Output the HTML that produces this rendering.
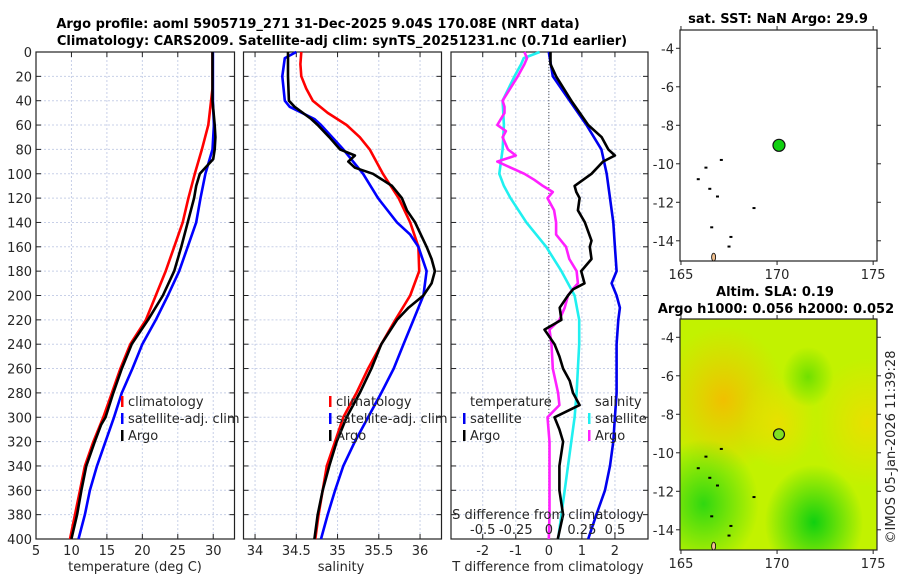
<!DOCTYPE html>
<html><head><meta charset="utf-8"><style>
body{margin:0;background:#fff;}
svg{font-family:"DejaVu Sans","Liberation Sans",sans-serif;}
.t{font-size:13px;fill:#262626;}
.b{font-size:13px;font-weight:bold;fill:#000;}
</style></head><body>
<svg id="s" width="900" height="580" viewBox="0 0 900 580" xmlns="http://www.w3.org/2000/svg">
<defs>
<radialGradient id="g1" cx="0.22" cy="0.35" r="0.32"><stop offset="0" stop-color="#f0c000"/><stop offset="1" stop-color="#f0c800" stop-opacity="0"/></radialGradient>
<radialGradient id="g2" cx="0.68" cy="0.88" r="0.25"><stop offset="0" stop-color="#10d010"/><stop offset="1" stop-color="#10d010" stop-opacity="0"/></radialGradient>
<radialGradient id="g3" cx="0.12" cy="0.8" r="0.28"><stop offset="0" stop-color="#30d810"/><stop offset="1" stop-color="#30d810" stop-opacity="0"/></radialGradient>
<radialGradient id="g4" cx="0.95" cy="0.45" r="0.28"><stop offset="0" stop-color="#e8e000"/><stop offset="1" stop-color="#e8e000" stop-opacity="0"/></radialGradient>
<radialGradient id="g5" cx="0.65" cy="0.25" r="0.13"><stop offset="0" stop-color="#70e000"/><stop offset="1" stop-color="#70e000" stop-opacity="0"/></radialGradient>
<radialGradient id="g6" cx="0.5" cy="0.45" r="0.2"><stop offset="0" stop-color="#e8e000"/><stop offset="1" stop-color="#e8e000" stop-opacity="0"/></radialGradient>
</defs>
<g id="root"></g>
</svg>
<script>
// depth arrays and series values
const tDepth=[0,20,40,60,70,80,88,100,110,120,140,160,180,200,220,240,260,280,300,306,320,340,360,380,400];
const tArgo=[29.9,29.9,29.9,30.2,30.3,30.2,30.0,28.1,27.6,27.3,26.4,25.5,24.5,22.9,20.8,18.5,17.1,15.9,14.8,14.2,13.3,12.1,11.4,10.8,10.0];
const cDepth=[0,30,40,60,80,100,120,140,160,180,200,220,240,260,280,300,320,340,360,380,400];
const tClim=[29.9,29.9,29.7,29.3,28.4,27.4,26.5,25.7,24.5,23.3,21.9,20.5,18.3,16.9,15.7,14.5,13.1,11.9,11.2,10.5,9.8];
const tSat=[29.95,29.95,29.95,30.1,29.9,28.9,28.2,27.6,26.4,25.2,23.6,21.9,20.0,18.6,17.1,16.0,14.8,13.6,12.6,11.9,11.0];
const sDepthA=[0,20,40,45,55,60,70,80,85,90,95,100,110,120,130,140,160,170,180,190,200,210,220,240,260,280,300,320,340,360,380,400];
const sArgo=[34.40,34.40,34.41,34.48,34.68,34.76,34.90,35.03,35.21,35.13,35.21,35.43,35.66,35.78,35.84,35.94,36.08,36.14,36.18,36.14,36.04,35.86,35.72,35.53,35.41,35.27,35.11,34.99,34.90,34.82,34.76,34.72];
const sDepthC=[0,10,20,30,40,50,60,70,80,100,120,140,160,180,200,220,240,260,280,300,320,340,360,380,400];
const sClim=[34.56,34.55,34.56,34.62,34.70,34.88,35.11,35.27,35.39,35.55,35.74,35.88,35.98,35.99,35.88,35.70,35.53,35.37,35.23,35.07,34.97,34.87,34.82,34.77,34.73];
const sDepthS=[0,5,20,40,45,55,60,80,100,120,140,150,160,180,200,220,240,260,280,300,320,340,360,380,400];
const sSat=[34.50,34.36,34.33,34.36,34.42,34.72,34.80,35.07,35.31,35.49,35.72,35.88,35.98,36.08,36.04,35.92,35.80,35.68,35.53,35.37,35.21,35.07,34.97,34.88,34.80];
const dDepthT=[0,10,20,40,60,70,80,85,90,100,110,115,120,130,140,155,160,170,180,190,195,200,210,220,228,240,250,260,270,280,290,300,310,320,340,360,380,400];
const dTArgo=[0.05,0.05,0.22,0.68,1.19,1.6,1.8,2.0,1.64,1.29,0.78,0.83,0.93,0.88,1.09,1.29,1.24,1.29,0.98,1.08,0.73,0.58,0.33,0.38,-0.13,0.17,0.32,0.43,0.63,0.73,0.93,0.17,0.32,0.43,0.32,0.32,0.43,0.27];
const dDepthTS=[0,20,40,60,80,100,120,140,160,180,190,200,210,220,240,260,280,300,320,340,360,380,400];
const dTSat=[0,0.12,0.63,1.14,1.59,1.75,1.85,1.95,2.0,2.05,1.9,2.05,2.15,2.1,2.05,2.05,2.05,2.0,1.95,1.85,1.70,1.44,1.19];
const dDepthSS=[0,5,10,20,40,60,80,100,110,120,140,160,180,200,220,240,260,280,300,320,340,360,380,400];
const dSSat=[-0.07,-0.19,-0.21,-0.26,-0.35,-0.34,-0.35,-0.375,-0.34,-0.29,-0.17,-0.02,0.095,0.195,0.23,0.23,0.22,0.21,0.195,0.17,0.145,0.12,0.095,0.07];
const dDepthSA=[0,5,10,20,40,45,50,60,65,70,80,85,90,100,105,110,115,120,130,140,150,160,170,180,190,195,200,210,220,228,240,260,280,290,300,320,340,360,380,400];
const dSArgo=[-0.185,-0.165,-0.185,-0.235,-0.35,-0.335,-0.335,-0.39,-0.325,-0.35,-0.31,-0.25,-0.39,-0.185,-0.11,-0.045,0.03,-0.01,0.04,0.055,0.055,0.13,0.155,0.21,0.22,0.18,0.145,0.12,0.08,0.005,0.02,0.03,0.07,0.08,-0.01,0.005,0.005,0.005,0.005,0];
const depthTicks=[0,20,40,60,80,100,120,140,160,180,200,220,240,260,280,300,320,340,360,380,400];
const tTicks=[5,10,15,20,25,30];
const sTicks=[34,34.5,35,35.5,36];
const dTTicks=[-2,-1,0,1,2];
const dSTicks=[-0.5,-0.25,0,0.25,0.5];
const lonTicks=[165,170,175];
const latTicks=[-4,-6,-8,-10,-12,-14];
const argoLon=170.1, argoLat=-9.04;

const NS='http://www.w3.org/2000/svg';
const root=document.getElementById('root');
function mk(tag,at,parent){const e=document.createElementNS(NS,tag);for(const k in at)e.setAttribute(k,at[k]);(parent||root).appendChild(e);return e;}
function txt(x,y,s,cls,anchor,parent){const e=mk('text',{x:x,y:y,'class':cls,'text-anchor':anchor||'middle'},parent);e.textContent=s;return e;}
const Y0=52,Y1=539;
const yD=d=>Y0+(d/400)*(Y1-Y0);
const panels=[
 {name:'temperature-panel',x0:36,x1:234.5,v0:5,v1:33.0},
 {name:'salinity-panel',x0:243.5,x1:441.5,v0:33.86,v1:36.26},
 {name:'difference-panel',x0:451,x1:648,v0:-2.96,v1:3.0}
];
function xf(p){return v=>p.x0+(v-p.v0)/(p.v1-p.v0)*(p.x1-p.x0);}
function drawPanel(p,ticks,labelsLeft){
  const g=mk('g',{});
  
  
  const x=xf(p);
  ticks.forEach(t=>{const l=mk('line',{x1:x(t),x2:x(t),y1:Y0,y2:Y1,stroke:'#c8d0e8','stroke-width':1,'stroke-dasharray':'2,2'},g);});
  depthTicks.forEach(d=>{const l=mk('line',{x1:p.x0,x2:p.x1,y1:yD(d),y2:yD(d),stroke:'#c8d0e8','stroke-width':1,'stroke-dasharray':'2,2'},g);
    mk('line',{x1:p.x0,x2:p.x0+5,y1:yD(d),y2:yD(d),stroke:'#222'},g);mk('line',{x1:p.x1-5,x2:p.x1,y1:yD(d),y2:yD(d),stroke:'#222'},g);
    if(labelsLeft){const t=txt(p.x0-4,yD(d)+5,String(d),'t','end',g);}});
  ticks.forEach(t=>{mk('line',{x1:x(t),x2:x(t),y1:Y1,y2:Y1-5,stroke:'#222'},g);mk('line',{x1:x(t),x2:x(t),y1:Y0,y2:Y0+5,stroke:'#222'},g);});
  const r=mk('rect',{x:p.x0,y:Y0,width:p.x1-p.x0,height:Y1-Y0,fill:'none',stroke:'#222','stroke-width':1.2},g);
  
  return {g,x};
}
function line(g,x,vals,depths,color,name,w){
  const pts=vals.map((v,i)=>x(v).toFixed(1)+','+yD(depths[i]).toFixed(1)).join(' ');
  const l=mk('polyline',{points:pts,fill:'none',stroke:color,'stroke-width':w||2.6,'stroke-linejoin':'round'},g);
  
  
}
function legendEntry(g,x,y,color,label,name){
  const e=mk('g',{},g);
  
  
  mk('rect',{x:x,y:y-10,width:2.5,height:11,fill:color},e);
  txt(x+7,y,label,'t','start',e);
}
// Panel 1
let P=drawPanel(panels[0],tTicks,true);
line(P.g,P.x,tClim,cDepth,'#ff0000','climatology-temperature-line');
line(P.g,P.x,tSat,cDepth,'#0000ff','satellite-temperature-line');
line(P.g,P.x,tArgo,tDepth,'#000000','argo-temperature-line');
tTicks.forEach(t=>{const e=txt(P.x(t),555,String(t),'t','middle',P.g);});
let lab=txt(135,571,'temperature (deg C)','t','middle');
legendEntry(P.g,121,406,'#ff0000','climatology','legend-climatology');
legendEntry(P.g,121,423,'#0000ff','satellite-adj. clim','legend-satellite');
legendEntry(P.g,121,440,'#000000','Argo','legend-argo');
// Panel 2
P=drawPanel(panels[1],sTicks,false);
line(P.g,P.x,sClim,sDepthC,'#ff0000','climatology-salinity-line');
line(P.g,P.x,sSat,sDepthS,'#0000ff','satellite-salinity-line');
line(P.g,P.x,sArgo,sDepthA,'#000000','argo-salinity-line');
sTicks.forEach(t=>{const e=txt(P.x(t),555,String(t),'t','middle',P.g);});
lab=txt(341,571,'salinity','t','middle');
legendEntry(P.g,329,406,'#ff0000','climatology','legend-climatology');
legendEntry(P.g,329,423,'#0000ff','satellite-adj. clim','legend-satellite');
legendEntry(P.g,329,440,'#000000','Argo','legend-argo');
// Panel 3
P=drawPanel(panels[2],dTTicks,false);
const zl=mk('line',{x1:P.x(0),x2:P.x(0),y1:Y0,y2:Y1,stroke:'#555','stroke-width':1,'stroke-dasharray':'1,2'},P.g);

const xs=v=>P.x(v*4);
line(P.g,xs,dSSat,dDepthSS,'#20f0f0','salinity-satellite-diff-line');
line(P.g,xs,dSArgo,dDepthSA,'#ff20ff','salinity-argo-diff-line');
line(P.g,P.x,dTSat,dDepthTS,'#0000ee','temperature-satellite-diff-line');
line(P.g,P.x,dTArgo,dDepthT,'#000000','temperature-argo-diff-line');
dTTicks.forEach(t=>{const e=txt(P.x(t),555,String(t),'t','middle',P.g);});
lab=txt(548,571,'T difference from climatology','t','middle');
lab=txt(548,519,'S difference from climatology','t','middle');
dSTicks.forEach(t=>{const e=txt(xs(t),534,String(t),'t','middle',P.g);});
lab=txt(470,406,'temperature','t','start',P.g);
lab=txt(595,406,'salinity','t','start',P.g);
legendEntry(P.g,463,423,'#0000ee','satellite','legend-t-satellite');
legendEntry(P.g,463,440,'#000000','Argo','legend-t-argo');
legendEntry(P.g,588,423,'#20f0f0','satellite','legend-s-satellite');
legendEntry(P.g,588,440,'#ff20ff','Argo','legend-s-argo');
// titles
lab=txt(318,28,'Argo profile: aoml 5905719_271 31-Dec-2025 9.04S 170.08E (NRT data)','b');
lab=txt(342,45,'Climatology: CARS2009. Satellite-adj clim: synTS_20251231.nc (0.71d earlier)','b');
// Maps
function drawMap(name,top,bottom,bg){
  const L=680,R=877,lon0=164.95,lon1=175.2,lat0=-3.05,lat1=-15.05;
  const mx=v=>L+(v-lon0)/(lon1-lon0)*(R-L);
  const my=v=>top+(v-lat0)/(lat1-lat0)*(bottom-top);
  const g=mk('g',{});
  
  
  if(bg){
    mk('rect',{x:L,y:top,width:R-L,height:bottom-top,fill:'#c2f200'},g);
    ['g1','g4','g6','g3','g2','g5'].forEach(id=>mk('rect',{x:L,y:top,width:R-L,height:bottom-top,fill:'url(#'+id+')'},g));
  }
  // island specks
  [[166.3,-10.2],[165.9,-10.8],[166.5,-11.3],[166.9,-11.7],[167.6,-13.8],[167.5,-14.3],[166.6,-13.3],[167.1,-9.8],[168.8,-12.3]].forEach(c=>{
    const s=mk('rect',{x:mx(c[0])-1.5,y:my(c[1])-1,width:3,height:2,fill:'#000'},g);
    });
  const land=mk('ellipse',{cx:mx(166.7),cy:my(-14.85),rx:2,ry:4,fill:'#f0c090',stroke:'#000','stroke-width':0.8},g);
  
  const dot=mk('circle',{cx:mx(argoLon),cy:my(argoLat),r:bg?5.5:6,fill:bg?'#80e020':'#10d010',stroke:'#111','stroke-width':1.2},g);
  
  mk('rect',{x:L,y:top,width:R-L,height:bottom-top,fill:'none',stroke:'#222','stroke-width':1.2},g);
  latTicks.forEach(t=>{mk('line',{x1:L-4,x2:L,y1:my(t),y2:my(t),stroke:'#222'},g);mk('line',{x1:R,x2:R+4,y1:my(t),y2:my(t),stroke:'#222'},g);
    const e=txt(L-6,my(t)+5,String(t),'t','end',g);});
  lonTicks.forEach(t=>{mk('line',{x1:mx(t),x2:mx(t),y1:bottom,y2:bottom+4,stroke:'#222'},g);mk('line',{x1:mx(t),x2:mx(t),y1:top-4,y2:top,stroke:'#222'},g);
    const e=txt(mx(t),bottom+18,String(t),'t','middle',g);});
}
drawMap('sst-map',30,261,false);
drawMap('sla-map',319,550,true);
lab=txt(778,23,'sat. SST: NaN Argo: 29.9','b');
lab=txt(775,296,'Altim. SLA: 0.19','b');
lab=txt(776,313,'Argo h1000: 0.056 h2000: 0.052','b');
lab=txt(0,0,'©IMOS 05-Jan-2026 11:39:28','t','middle');lab.setAttribute('transform','translate(895,447) rotate(-90)');

</script>
</body></html>
